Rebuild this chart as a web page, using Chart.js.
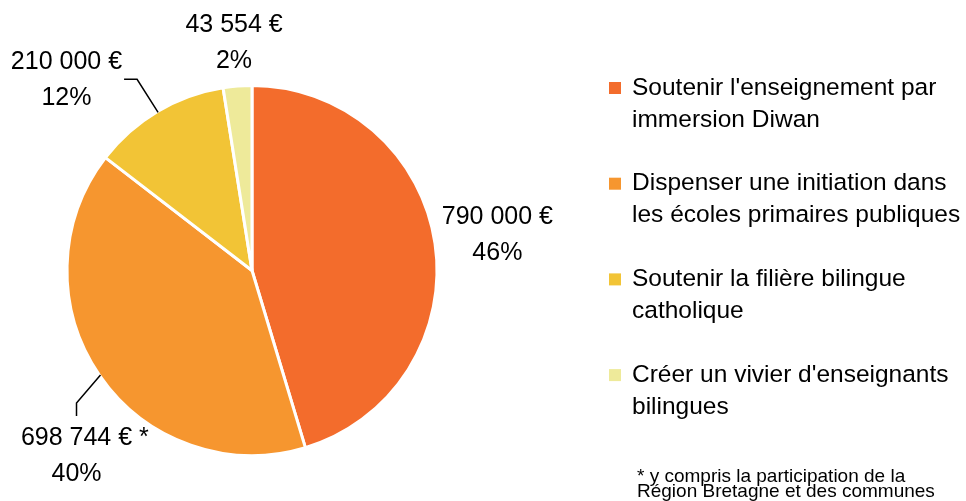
<!DOCTYPE html>
<html>
<head>
<meta charset="utf-8">
<script src="https://cdn.jsdelivr.net/npm/chart.js@4"></script>
<style>
    html, body { margin: 0; padding: 0; background: #ffffff; }
    #wrap { position: relative; width: 966px; height: 501px; }
</style>
</head>
<body>
<div id="wrap"><canvas id="pie" width="966" height="501"></canvas></div>
<script>
// Données du graphique
const categories = [
    ["Soutenir l'enseignement par", "immersion Diwan"],
    ["Dispenser une initiation dans", "les écoles primaires publiques"],
    ["Soutenir la filière bilingue", "catholique"],
    ["Créer un vivier d'enseignants", "bilingues"]
];
const amounts = [790000, 698744, 210000, 43554];
const amountLabels = ['790 000 €', '698 744 €', '210 000 €', '43 554 €'];
const amountSuffix = ['', ' *', '', ''];
const percentLabels = ['46%', '40%', '12%', '2%'];
const footnote = ['* y compris la participation de la', 'Région Bretagne et des communes'];

const COLORS = ['#F36C2C', '#F6962F', '#F2C436', '#EEEA9A'];
const FONT = "'Liberation Sans', Arial, sans-serif";

// placement des étiquettes : distance du centre, ou trait de rappel (décalage du coude)
const LABEL_LAYOUT = [
    { dist: 248, leader: null },
    { leader: 'down', dx: -24, dy: 28 },
    { leader: 'left', dx: -21, dy: -33 },
    { dist: 229, leader: null }
];

const labelsPlugin = {
    id: 'pieLabels',
    afterDraw(chart) {
        const ctx = chart.ctx;
        const arcs = chart.getDatasetMeta(0).data;
        ctx.save();
        ctx.fillStyle = '#000';
        ctx.strokeStyle = '#000';
        ctx.lineWidth = 1.5;
        ctx.font = '25px ' + FONT;
        ctx.textBaseline = 'middle';
        const lineGap = 35;

        arcs.forEach((arc, i) => {
            const { x, y, startAngle, endAngle, outerRadius } = arc.getProps(['x', 'y', 'startAngle', 'endAngle', 'outerRadius'], true);
            const mid = (startAngle + endAngle) / 2;
            const cfg = LABEL_LAYOUT[i];
            let cx, cy; // centre du premier texte
            if (cfg.leader) {
                const sx = x + Math.cos(mid) * (outerRadius - 1);
                const sy = y + Math.sin(mid) * (outerRadius - 1);
                const px = sx + cfg.dx;
                const py = sy + cfg.dy;
                ctx.beginPath();
                ctx.moveTo(sx, sy);
                ctx.lineTo(px, py);
                if (cfg.leader === 'down') {
                    ctx.lineTo(px, py + 13);
                    cx = px;
                    cy = py + 35;
                } else {
                    ctx.lineTo(px - 13, py);
                    const w = Math.max(ctx.measureText(amountLabels[i]).width, ctx.measureText(percentLabels[i]).width);
                    cx = px - 15 - w / 2;
                    cy = py - 17;
                }
                ctx.stroke();
            } else {
                cx = x + Math.cos(mid) * cfg.dist;
                cy = y + Math.sin(mid) * cfg.dist - lineGap / 2;
            }
            const main = amountLabels[i];
            const mw = ctx.measureText(main).width;
            ctx.textAlign = 'left';
            ctx.fillText(main + amountSuffix[i], cx - mw / 2, cy);
            ctx.textAlign = 'center';
            ctx.fillText(percentLabels[i], cx, cy + lineGap + 1);
        });

        // légende
        ctx.textAlign = 'left';
        ctx.font = '24.5px ' + FONT;
        categories.forEach((lines, i) => {
            const top = 88 + i * 95.7;
            ctx.fillStyle = COLORS[i];
            ctx.fillRect(609, top - 6, 12, 12);
            ctx.fillStyle = '#000';
            lines.forEach((t, j) => ctx.fillText(t, 632, top + j * 32));
        });

        // note
        ctx.font = '19px ' + FONT;
        footnote.forEach((t, j) => ctx.fillText(t, 637, 477 + j * 15));
        ctx.restore();
    }
};

new Chart(document.getElementById('pie'), {
    type: 'pie',
    data: {
        labels: categories,
        datasets: [{
            data: amounts,
            backgroundColor: COLORS,
            borderColor: '#ffffff',
            borderWidth: 3,
            hoverOffset: 0
        }]
    },
    options: {
        responsive: false,
        animation: false,
        devicePixelRatio: 1,
        layout: { padding: { left: 65.5, right: 527.5, top: 84, bottom: 44 } },
        plugins: {
            legend: { display: false },
            tooltip: { enabled: false }
        }
    },
    plugins: [labelsPlugin]
});
</script>
</body>
</html>
